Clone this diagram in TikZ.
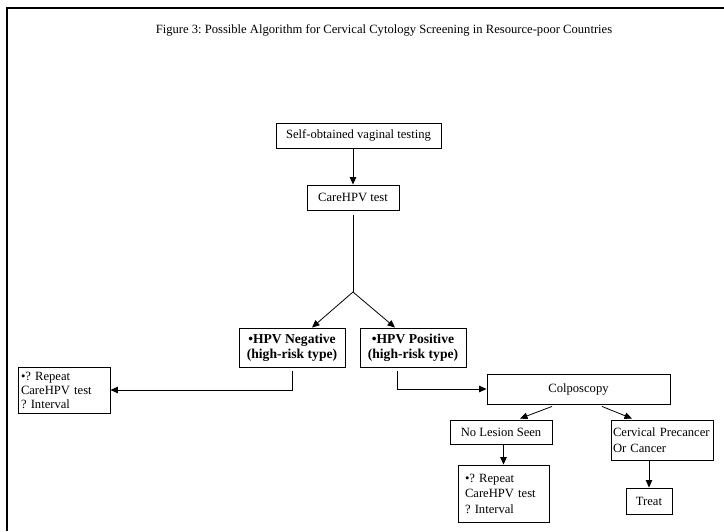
\documentclass[tikz,border=0pt]{standalone}
\usepackage{fontspec}
\setmainfont{Liberation Serif}
\usetikzlibrary{arrows.meta}
\frenchspacing
\begin{document}
\begin{tikzpicture}[x=1pt,y=-1pt,
  boxc/.style={draw, line width=0.9pt, inner sep=0pt, align=center, font=\fontsize{12.6pt}{15pt}\selectfont},
  boxb/.style={boxc, font=\fontsize{13.6pt}{15pt}\selectfont\bfseries},
  boxl/.style={boxc, align=left},
  conn/.style={line width=0.8pt, -{Triangle[length=7.5pt,width=6.5pt]}},
  plainline/.style={line width=0.8pt}]
\useasboundingbox (0,0) rectangle (724,531);
\draw[line width=2pt] (7,531) -- (7,7.5) -- (724,7.5);
\node[font=\fontsize{12.6pt}{15pt}\selectfont, inner sep=0pt] (title) at (384,30) {Figure 3: Possible Algorithm for Cervical Cytology Screening in Resource-poor Countries};
\node[boxc, minimum width=165pt, minimum height=25pt] (self) at (358.5,135.5) {Self-obtained vaginal testing};
\node[boxc, minimum width=92pt, minimum height=25pt] (care) at (353,197.5) {CareHPV test};
\coordinate (apex) at (353,292);
\node[boxb, minimum width=106pt, minimum height=39pt] (neg) at (292,347.5) {•HPV Negative\\(high-risk type)};
\node[boxb, minimum width=106pt, minimum height=39pt] (pos) at (413,347.5) {•HPV Positive\\(high-risk type)};
\node[boxl, inner xsep=3pt, text width=86pt, minimum height=46pt, font=\fontsize{12.6pt}{14pt}\selectfont] (rep1) at (64,390) {•? Repeat\\CareHPV test\\? Interval};
\node[boxc, minimum width=183pt, minimum height=30pt] (colpo) at (578.5,389) {Colposcopy};
\node[boxc, minimum width=102pt, minimum height=24pt] (nol) at (501,432) {No Lesion Seen};
\node[boxl, inner xsep=2pt, text width=98pt, minimum height=40pt, font=\fontsize{12.6pt}{16pt}\selectfont] (cerv) at (662,440) {Cervical Precancer\\Or Cancer};
\node[boxl, inner xsep=7pt, text width=77pt, minimum height=57pt, font=\fontsize{12.6pt}{15.5pt}\selectfont] (rep2) at (503.5,493.5) {•? Repeat\\CareHPV test\\? Interval};
\node[boxc, minimum width=46pt, minimum height=26pt] (treat) at (649,501) {Treat};
\draw[conn] (care.north |- self.south) -- (care.north);
\draw[plainline, shorten <=5pt] (care.south) -- (apex);
\draw[conn] (apex) -- ([xshift=20pt]neg.north);
\draw[conn] (apex) -- ([xshift=-18pt]pos.north);
\draw[conn] ([yshift=-4pt]neg.south) |- (rep1.east);
\draw[conn] ([xshift=-16pt,yshift=-4pt]pos.south) |- (colpo.west);
\draw[conn] ([xshift=-26.5pt,yshift=-2pt]colpo.south) -- ([xshift=19pt,yshift=1pt]nol.north);
\draw[conn] ([xshift=23.5pt,yshift=-2pt]colpo.south) -- ([xshift=-30pt,yshift=1pt]cerv.north);
\draw[conn] (rep2.north |- nol.south) -- (rep2.north);
\draw[conn] (treat.north |- cerv.south) -- (treat.north);
\end{tikzpicture}
\end{document}
